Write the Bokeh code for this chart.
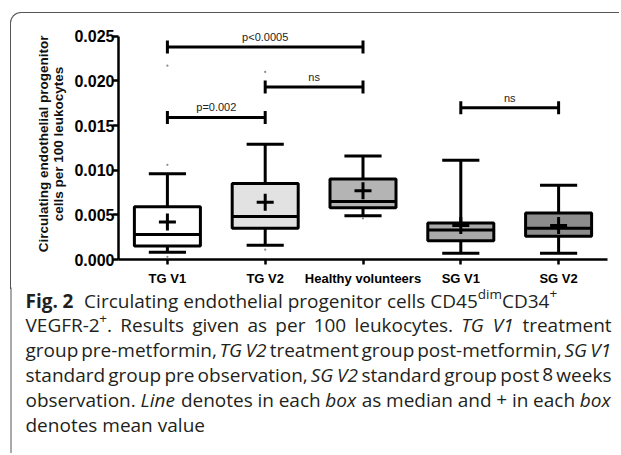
import math
from bokeh.plotting import figure
from bokeh.models import FactorRange, Range1d, FixedTicker, PrintfTickFormatter
from bokeh.embed import file_html
from bokeh.resources import INLINE
from bokeh.core.properties import value

# ---------------- data ----------------
groups = ["TG V1", "TG V2", "Healthy volunteers", "SG V1", "SG V2"]
whisker_low = [0.0008, 0.0016, 0.0049, 0.0007, 0.0007]
q1 = [0.0015, 0.0035, 0.0058, 0.0021, 0.0026]
median = [0.0028, 0.0048, 0.0065, 0.0033, 0.0035]
q3 = [0.0059, 0.0085, 0.0090, 0.0041, 0.0052]
whisker_high = [0.0096, 0.0129, 0.0116, 0.0111, 0.0083]
mean = [0.0042, 0.0064, 0.0077, 0.0038, 0.0038]
box_colors = ["#ffffff", "#e2e2e2", "#b4b4b4", "#a9a9a9", "#8c8c8c"]

outlier_group = ["TG V1", "TG V1", "TG V1", "TG V2", "TG V2", "Healthy volunteers"]
outlier_value = [0.0217, 0.0106, 0.0003, 0.0210, 0.0011, 0.0046]

sig_from = ["TG V1", "TG V2", "TG V1", "SG V1"]
sig_to = ["Healthy volunteers", "Healthy volunteers", "TG V2", "SG V2"]
sig_y = [0.0238, 0.0193, 0.0159, 0.0170]
sig_label = ["p<0.0005", "ns", "p=0.002", "ns"]

y_ticks = [0.0, 0.005, 0.010, 0.015, 0.020, 0.025]
y_label = "Circulating endothelial progenitor\ncells per 100 leukocytes"

# caption: segments (text, style); leading spaces mean a word gap before the segment
caption_lines = [
    [("Fig. 2", "bold"), ("  Circulating endothelial progenitor cells CD45", "normal"),
     ("dim", "sup"), ("CD34", "normal"), ("+", "sup")],
    [("VEGFR-2", "normal"), ("+", "sup"), (". Results given as per 100 leukocytes.", "normal"),
     (" TG V1", "italic"), (" treatment", "normal")],
    [("group pre-metformin,", "normal"), (" TG V2", "italic"),
     (" treatment group post-metformin,", "normal"), (" SG V1", "italic")],
    [("standard group pre observation,", "normal"), (" SG V2", "italic"),
     (" standard group post 8 weeks", "normal")],
    [("observation.", "normal"), (" Line", "italic"), (" denotes in each", "normal"),
     (" box", "italic"), (" as median and + in each", "normal"), (" box", "italic")],
    [("denotes mean value", "normal")],
]
caption_line_end = [None, 611, 611, 611, 611, None]

# ---------------- geometry (page pixels) ----------------
BORDER_X, BORDER_Y = 10, 12
C1_X, C1_Y = BORDER_X + 1, BORDER_Y + 1        # chart canvas origin
FRAME_L, FRAME_R, FRAME_T, FRAME_B = 118, 607, 28, 259
CHART_BOTTOM = 290
OVERLAP = 10
W1 = 620 - C1_X
H1 = CHART_BOTTOM - C1_Y
CAP_TOP = CHART_BOTTOM - OVERLAP
W2, H2 = 620, 454 - CAP_TOP
BOX_W = 0.675
CAP_W = 0.38

idx = {g: i for i, g in enumerate(groups)}
xc = [i + 0.5 for i in range(len(groups))]

p = figure(x_range=FactorRange(factors=groups), y_range=Range1d(0, 0.02586),
           width=W1, height=H1, output_backend="svg", toolbar_location=None,
           min_border_left=FRAME_L - C1_X, min_border_right=C1_X + W1 - FRAME_R,
           min_border_top=FRAME_T - C1_Y, min_border_bottom=C1_Y + H1 - FRAME_B,
           styles={"margin-left": f"{BORDER_X}px", "margin-top": f"{BORDER_Y}px",
                   "border-top": "1px solid #555555", "border-left": "1px solid #555555",
                   "border-top-left-radius": "11px"})
p.outline_line_color = None
p.border_fill_color = None
p.background_fill_color = None
p.grid.visible = False

# whiskers
p.segment(x0=groups, y0=q3, x1=groups, y1=whisker_high, line_color="black", line_width=3)
p.segment(x0=groups, y0=whisker_low, x1=groups, y1=q1, line_color="black", line_width=3)
p.segment(x0=[x - CAP_W / 2 for x in xc], y0=whisker_high, x1=[x + CAP_W / 2 for x in xc],
          y1=whisker_high, line_color="black", line_width=3)
p.segment(x0=[x - CAP_W / 2 for x in xc], y0=whisker_low, x1=[x + CAP_W / 2 for x in xc],
          y1=whisker_low, line_color="black", line_width=3)
# boxes
p.vbar(x=groups, bottom=q1, top=q3, width=BOX_W, fill_color=box_colors,
       line_color="black", line_width=3)
# medians
p.segment(x0=[x - BOX_W / 2 for x in xc], y0=median, x1=[x + BOX_W / 2 for x in xc],
          y1=median, line_color="black", line_width=3)
# means
p.scatter(x=groups, y=mean, marker="cross", size=17, line_color="black", line_width=3)
# outliers
p.scatter(x=outlier_group, y=outlier_value, marker="circle", size=2.2,
          fill_color="#8a8a8a", line_color=None)

# significance bars
sx0 = [idx[a] + 0.5 for a in sig_from]
sx1 = [idx[b] + 0.5 for b in sig_to]
p.segment(x0=sx0, y0=sig_y, x1=sx1, y1=sig_y, line_color="black", line_width=3)
p.scatter(x=sx0 + sx1, y=sig_y + sig_y, marker="dash", angle=math.pi / 2, size=13,
          line_color="black", line_width=3)
p.text(x=[(a + b) / 2 for a, b in zip(sx0, sx1)], y=sig_y, text=sig_label,
       text_font=value("Liberation Sans"), text_font_size="11px", text_color="#222222",
       text_align="center", text_baseline="bottom", y_offset=-4)

# axes
for ax in (p.xaxis, p.yaxis):
    ax.axis_line_width = 2.5
    ax.axis_line_color = "black"
    ax.major_tick_line_width = 2.5
    ax.major_tick_line_color = "black"
    ax.minor_tick_line_color = None
    ax.major_tick_in = 0
    ax.major_label_text_font = "Liberation Sans"
    ax.major_label_text_font_style = "bold"
    ax.major_label_text_color = "black"

p.yaxis.ticker = FixedTicker(ticks=y_ticks)
p.yaxis.formatter = PrintfTickFormatter(format="%.3f")
p.yaxis.bounds = (0, 0.025)
p.yaxis.major_tick_out = 6
p.yaxis.major_label_standoff = -2
p.yaxis.major_label_text_font_size = "16px"
p.yaxis.axis_label = y_label
p.yaxis.axis_label_text_font = "Liberation Sans"
p.yaxis.axis_label_text_font_style = "bold"
p.yaxis.axis_label_text_font_size = "13.5px"
p.yaxis.axis_label_text_color = "#111111"
p.yaxis.axis_label_text_line_height = 1.05
p.yaxis.axis_label_standoff = 5

p.xaxis.major_tick_out = 5
p.xaxis.major_label_standoff = 6
p.xaxis.major_label_text_font_size = "13px"

# ---------------- caption figure (overlaps the chart's transparent bottom strip) ----------------
c = figure(x_range=Range1d(0, W2), y_range=Range1d(CAP_TOP + H2, CAP_TOP),
           width=W2, height=H2, output_backend="svg", toolbar_location=None,
           x_axis_type=None, y_axis_type=None, min_border=0,
           styles={"margin-top": f"-{OVERLAP}px"})
c.outline_line_color = None
c.border_fill_color = None
c.background_fill_color = None
c.grid.visible = False

c.segment(x0=[BORDER_X + 0.5], y0=[CHART_BOTTOM - 2], x1=[BORDER_X + 0.5],
          y1=[CAP_TOP + H2 + 2], line_color="#555555", line_width=1)

# approximate Open Sans advance widths (units per 2048 em) for caption flow layout
ADV = {" ": 532, "+": 1171, ",": 502, "-": 659, ".": 545, "C": 1294, "D": 1481, "E": 1139,
       "F": 1057, "G": 1464, "L": 1075, "R": 1251, "S": 1124, "T": 1149, "V": 1219,
       "a": 1139, "b": 1255, "c": 975, "d": 1255, "e": 1149, "f": 694, "g": 1122, "h": 1257,
       "i": 518, "k": 1075, "l": 518, "m": 1905, "n": 1257, "o": 1237, "p": 1255, "r": 836,
       "s": 977, "t": 723, "u": 1257, "v": 1026, "w": 1593, "x": 1073, "y": 1028}
FS = 19.0
STY = {"normal": ("normal", FS, 0, 1.0), "bold": ("bold", FS, 0, 1.07),
       "italic": ("italic", FS, 0, 0.96), "sup": ("normal", 13.5, -7, 1.0)}


def text_width(t, size, k):
    return sum(ADV.get(ch, 1171) for ch in t) / 2048.0 * size * k


SPACE = text_width(" ", FS, 1.0)
CAP_X0 = 25
caption_baselines = [301, 325.8, 350.6, 375.4, 400.2, 425]

groups_xy = {s: ([], [], []) for s in STY}
for line, base, end in zip(caption_lines, caption_baselines, caption_line_end):
    tokens = []   # (word, style, natural gap before)
    for txt, s in line:
        lead = len(txt) - len(txt.lstrip(" "))
        words = txt.strip(" ").split(" ")
        for i, w in enumerate(words):
            gap = (lead * SPACE) if i == 0 else SPACE
            tokens.append((w, s, gap))
    natural = sum(g for _, _, g in tokens) + sum(
        text_width(w, STY[s][1], STY[s][3]) for w, s, _ in tokens)
    n_gaps = sum(1 for _, _, g in tokens if g > 0)
    extra = (end - CAP_X0 - natural) / n_gaps if (end is not None and n_gaps) else 0.0
    x = CAP_X0
    for w, s, g in tokens:
        if g > 0:
            x += g + extra
        fstyle, fsize, dy, k = STY[s]
        xs, ys, ts = groups_xy[s]
        xs.append(x)
        ys.append(base + dy)
        ts.append(w)
        x += text_width(w, fsize, k)

for s, (xs, ys, ts) in groups_xy.items():
    fstyle, fsize, dy, k = STY[s]
    c.text(x=xs, y=ys, text=ts, text_font=value("Open Sans"), text_font_size=f"{fsize}px",
           text_font_style=fstyle, text_color="#231f20", text_baseline="alphabetic",
           text_align="left")

open("out.html", "w").write(file_html([p, c], INLINE))
